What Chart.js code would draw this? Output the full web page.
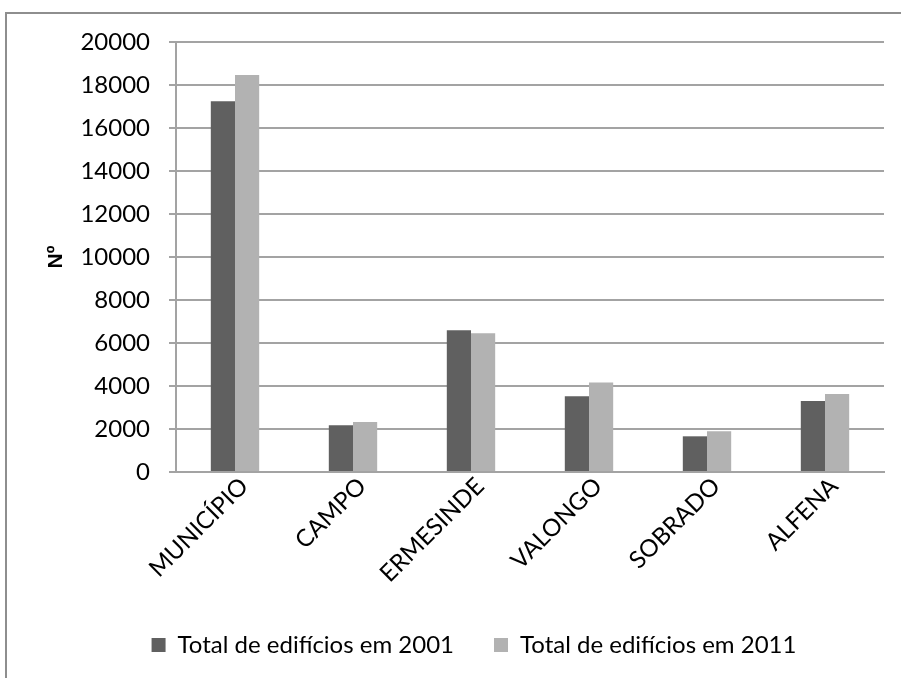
<!DOCTYPE html>
<html>
<head>
<meta charset="utf-8">
<script src="https://cdn.jsdelivr.net/npm/chart.js@4"></script>
<style>
  html, body { margin: 0; padding: 0; background: #fff; }
  #wrap { position: relative; width: 901px; height: 678px; overflow: hidden; }
  #frame { position: absolute; left: 5px; top: 12px; width: 1000px; height: 1000px;
           border-left: 2px solid #8e8e8e; border-top: 2px solid #8e8e8e; }
  canvas { position: absolute; left: 0; top: 0; }
</style>
</head>
<body>
<div id="wrap">
  <div id="frame"></div>
  <canvas id="chart" width="901" height="678"></canvas>
</div>
<script>
// categories and building counts
const freguesias = ['MUNICÍPIO', 'CAMPO', 'ERMESINDE', 'VALONGO', 'SOBRADO', 'ALFENA'];
const edificios2001 = [17250, 2170, 6590, 3520, 1660, 3300];
const edificios2011 = [18470, 2320, 6450, 4160, 1890, 3630];
const serieNomes = ['Total de edifícios em 2001', 'Total de edifícios em 2011'];
const yMax = 20000;
const yStep = 2000;

const fontFamily = 'Lato, "Open Sans", sans-serif';
const gridColor = '#a3a3a3';

// push the legend a bit to the right, under the plot
const legendShift = {
    id: 'legendShift',
    afterLayout(chart) {
        chart.legend.left += 32;
        chart.legend.right += 32;
    }
};

const ctx = document.getElementById('chart').getContext('2d');
const chart = new Chart(ctx, {
    type: 'bar',
    data: {
        labels: freguesias,
        datasets: [{
            label: serieNomes[0],
            data: edificios2001,
            backgroundColor: '#606060'
        }, {
            label: serieNomes[1],
            data: edificios2011,
            backgroundColor: '#b2b2b2'
        }]
    },
    options: {
        responsive: false,
        animation: false,
        layout: { padding: { left: 0, right: 17, top: 42, bottom: 11 } },
        datasets: { bar: { categoryPercentage: 0.41, barPercentage: 1 } },
        scales: {
            x: {
                grid: { display: false, drawTicks: false },
                border: { color: gridColor, width: 2 },
                ticks: {
                    color: '#000',
                    font: { family: fontFamily, size: 24 },
                    maxRotation: 45,
                    minRotation: 45,
                    padding: 0,
                    labelOffset: 9
                },
                afterFit(scale) { scale.height = 121; }
            },
            y: {
                min: 0,
                max: yMax,
                ticks: {
                    stepSize: yStep,
                    color: '#000',
                    font: { family: fontFamily, size: 24 },
                    padding: 19,
                    callback: (v) => String(v)
                },
                grid: { color: gridColor, lineWidth: 2, tickLength: 7 },
                border: { color: gridColor, width: 2 },
                title: {
                    display: true,
                    text: 'Nº',
                    color: '#000',
                    font: { family: '"Liberation Sans", Arial, sans-serif', size: 21, weight: 'bold' },
                    padding: { top: 44, bottom: 0 }
                },
                afterFit(scale) { scale.width = 176; }
            }
        },
        plugins: {
            legend: {
                position: 'bottom',
                labels: {
                    color: '#000',
                    font: { family: fontFamily, size: 24 },
                    boxWidth: 14,
                    boxHeight: 14,
                    padding: 40
                }
            },
            tooltip: { enabled: false }
        }
    },
    plugins: [legendShift]
});
</script>
</body>
</html>
